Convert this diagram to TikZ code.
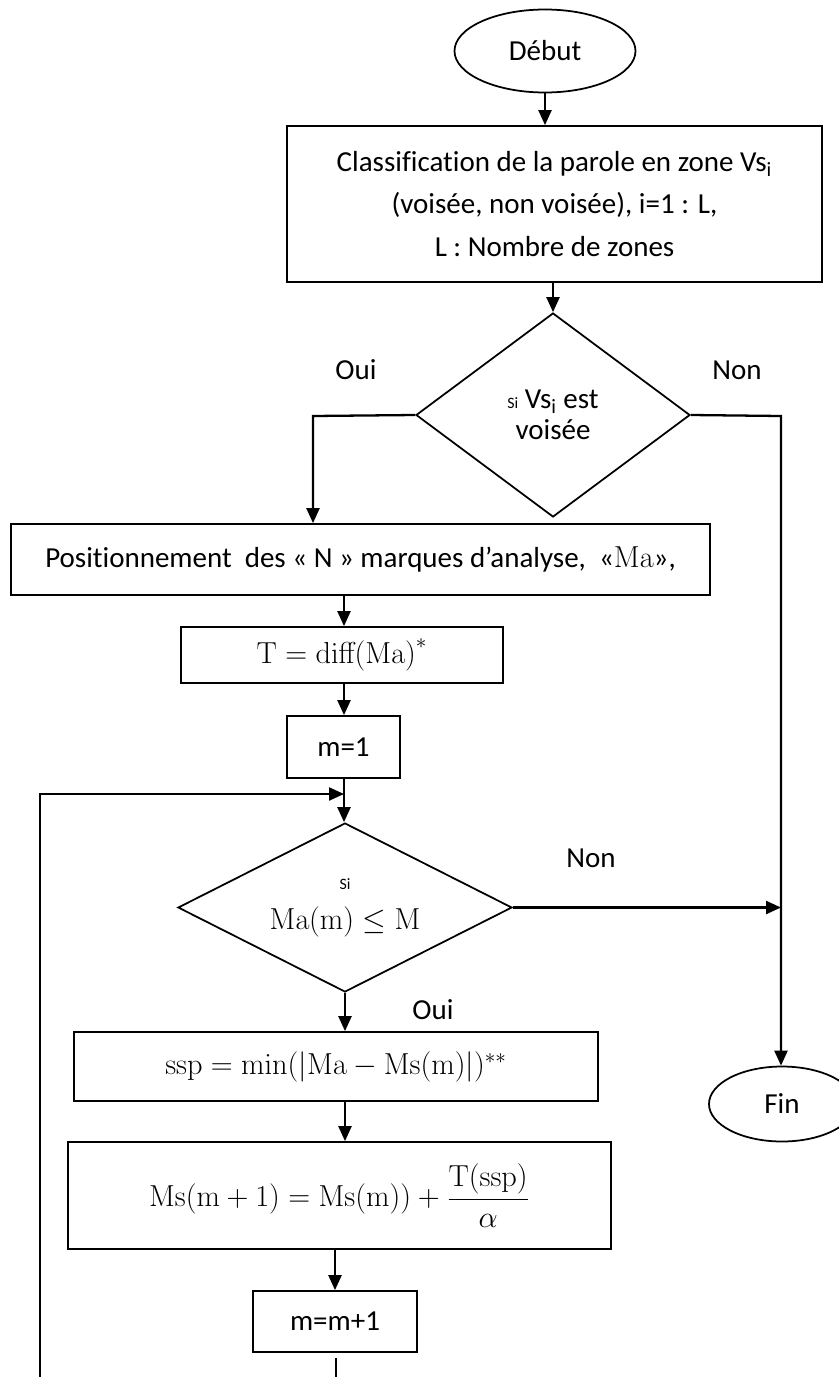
\documentclass[tikz,border=0pt]{standalone}
\usepackage{amsmath}
\usepackage{amssymb}
\usepackage[no-math]{fontspec}
\setmainfont{Carlito}[Ligatures=NoCommon]
\usetikzlibrary{shapes.geometric,arrows.meta}

\tikzset{
    boite/.style={draw,line width=1pt,inner sep=0pt,align=center},
    bulle/.style={draw,ellipse,line width=1pt,inner sep=0pt},
    test/.style={draw,diamond,line width=1pt,inner sep=0pt,align=center},
    fleche/.style={-{Stealth[length=0.3cm,width=0.26cm,inset=0pt]},line width=1.3pt},
    trait/.style={line width=1pt}
}

\begin{document}
\begin{tikzpicture}[font=\fontsize{16.5}{24}\selectfont]
                \useasboundingbox (0,0) rectangle (16.78,-27.54);

                \node[bulle,minimum width=3.62cm,minimum height=1.66cm] (debut) at (10.9,-1.02) {Début};
                \node[boite,minimum width=10.7cm,minimum height=3.12cm] (classif) at (11.09,-4.08)
                    {Classification de la parole en zone Vs\textsubscript{i} \\ (voisée, non voisée), i=1 : L, \\ L : Nombre de zones};
                \node[test,minimum width=5.48cm,minimum height=4.08cm,shape aspect=1.34,
                    font=\fontsize{16.5}{17.6}\selectfont] (siVs) at (11.06,-8.3)
                    {{\small Si} Vs\textsubscript{i} est \\ voisée};
                \node[] (oui1) at (7.12,-7.4) {Oui};
                \node[] (non1) at (14.74,-7.4) {Non};

                \node[boite,minimum width=13.98cm,minimum height=1.42cm] (pos) at (7.21,-11.19)
                    {Positionnement~ des « N » marques d’analyse, ~«$\mathrm{Ma}$»,};
                \node[boite,minimum width=6.44cm,minimum height=1.12cm] (diffT) at (6.84,-13.1)
                    {$\mathrm{T = diff(Ma)}^{*}$};
                \node[boite,minimum width=2.26cm,minimum height=1.24cm] (mun) at (6.87,-14.94) {m=1};

                \node[test,minimum width=6.68cm,minimum height=3.38cm,shape aspect=2,
                    font=\fontsize{16.5}{22.7}\selectfont] (siMa) at (6.9,-18.15)
                    {{\small Si} \\ $\mathrm{Ma(m)} \leq \mathrm{M}$};
                \node[] (non2) at (11.82,-17.16) {Non};
                \node[] (oui2) at (8.66,-20.2) {Oui};

                \node[boite,minimum width=10.48cm,minimum height=1.38cm] (ssp) at (6.72,-21.33)
                    {$\mathrm{ssp} = \min(|\mathrm{Ma} - \mathrm{Ms(m)}|)^{**}$};
                \node[boite,minimum width=10.86cm,minimum height=2.14cm] (msup) at (6.79,-23.91)
                    {$\mathrm{Ms(m+1)} = \mathrm{Ms(m))} + \dfrac{\mathrm{T(ssp)}}{\alpha}$};
                \node[boite,minimum width=3.28cm,minimum height=1.22cm] (mplus) at (6.7,-26.43) {m=m+1};

                \node[bulle,minimum width=2.92cm,minimum height=1.5cm] (fin) at (15.64,-22.08) {Fin};

                \coordinate (coinG) at (6.26,-8.32);
                \coordinate (coinD) at (15.62,-8.32);
                \coordinate (jonction) at (6.88,-15.88);
                \coordinate (bas) at (0.8,-27.54);
                \coordinate (queue) at (6.72,-27.54);

                \draw[fleche] (debut.south) -- (debut.south |- classif.north);
                \draw[fleche] (classif.south -| siVs.north) -- (siVs.north);
                \draw[fleche] (siVs.west) -- (coinG) -- (coinG |- pos.north);
                \draw[fleche] (siVs.east) -- (coinD) -- (coinD |- fin.north);
                \draw[fleche] (pos.south -| jonction) -- (jonction |- diffT.north);
                \draw[fleche] (diffT.south -| jonction) -- (jonction |- mun.north);
                \draw[fleche] (mun.south -| jonction) -- (jonction |- siMa.north);
                \draw[fleche] (bas) |- (jonction);
                \draw[fleche] (siMa.east) -- (siMa.east -| coinD);
                \draw[fleche] (siMa.south) -- (siMa.south |- ssp.north);
                \draw[fleche] (ssp.south -| siMa.south) -- (siMa.south |- msup.north);
                \draw[fleche] (msup.south -| mplus.north) -- (mplus.north);
                \draw[trait] ([yshift=-0.1cm]mplus.south -| queue) -- (queue);
\end{tikzpicture}
\end{document}
